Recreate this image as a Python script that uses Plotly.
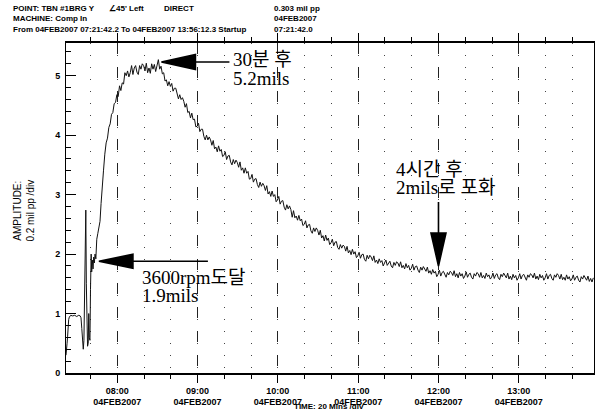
import plotly.graph_objects as go
import pandas as pd

# ---------------- data ----------------
START = pd.Timestamp("2007-02-04 07:21:42")
END = pd.Timestamp("2007-02-04 13:56:12")

# start-up transient (minutes after START, amplitude mil pp)
startup_min = [0, 0.4, 0.8, 1.2, 1.6, 2.0, 2.5, 3.5, 5, 6.5,
               8, 9.5, 10.6, 11.2, 11.8, 12.4, 12.9, 13.4, 13.9, 14.4,
               14.8, 15.2, 15.6, 16.1, 16.6, 17.0, 17.4, 17.9, 18.3, 18.8,
               19.2, 19.7, 20.2, 20.7, 21.2, 21.7, 22.3, 23.0, 23.8, 24.6,
               25.4, 26.2, 27.0]
startup_amp = [0.30, 0.36, 0.50, 0.62, 0.80, 0.90, 0.94, 0.97, 0.96, 0.97,
               0.95, 0.97, 0.96, 0.93, 0.75, 0.50, 0.40, 0.55, 1.20, 2.20,
               2.74, 1.50, 0.60, 0.45, 0.50, 1.00, 0.60, 0.55, 1.40, 2.00,
               1.70, 1.90, 1.75, 1.95, 1.85, 2.00, 1.92, 2.25, 2.35, 2.45,
               2.55, 2.85, 3.15]

# main trace, one reading per minute from minute 28 after START
main_start_min = 28
main_amp = [
    3.40, 3.68, 3.87, 3.95, 4.13, 4.19, 4.35, 4.38, 4.53, 4.55,
    4.68, 4.65, 4.83, 4.75, 4.88, 4.86, 5.05, 5.00, 5.08, 4.98,
    5.05, 5.17, 5.02, 5.13, 5.17, 5.06, 5.02, 5.17, 5.11, 5.20,
    5.17, 5.08, 5.21, 5.05, 5.13, 5.04, 5.20, 5.11, 5.19, 5.07,
    5.18, 5.27, 5.11, 5.16, 5.03, 5.05, 4.91, 4.93, 4.83, 4.90,
    4.82, 4.87, 4.74, 4.79, 4.79, 4.68, 4.61, 4.68, 4.60, 4.63,
    4.57, 4.47, 4.53, 4.38, 4.40, 4.29, 4.37, 4.26, 4.27, 4.14,
    4.15, 4.20, 4.06, 4.10, 4.10, 3.98, 3.92, 4.00, 3.92, 3.97,
    3.92, 3.83, 3.91, 3.77, 3.80, 3.72, 3.82, 3.73, 3.76, 3.64,
    3.66, 3.72, 3.59, 3.65, 3.66, 3.55, 3.50, 3.59, 3.52, 3.58,
    3.54, 3.46, 3.55, 3.41, 3.45, 3.36, 3.45, 3.36, 3.39, 3.26,
    3.27, 3.34, 3.21, 3.26, 3.27, 3.17, 3.12, 3.21, 3.14, 3.19,
    3.15, 3.07, 3.15, 3.01, 3.05, 2.97, 3.06, 2.97, 3.00, 2.88,
    2.91, 2.97, 2.84, 2.89, 2.90, 2.79, 2.74, 2.83, 2.76, 2.81,
    2.75, 2.62, 2.73, 2.61, 2.64, 2.57, 2.65, 2.56, 2.59, 2.48,
    2.50, 2.56, 2.44, 2.49, 2.50, 2.39, 2.35, 2.44, 2.38, 2.44,
    2.40, 2.32, 2.40, 2.27, 2.31, 2.22, 2.32, 2.23, 2.27, 2.16,
    2.19, 2.25, 2.14, 2.20, 2.21, 2.11, 2.08, 2.16, 2.10, 2.15,
    2.13, 2.05, 2.13, 2.02, 2.06, 1.99, 2.08, 2.00, 2.04, 1.94,
    1.97, 2.03, 1.93, 1.99, 2.00, 1.91, 1.88, 1.98, 1.92, 1.98,
    1.95, 1.89, 1.97, 1.86, 1.90, 1.84, 1.92, 1.86, 1.89, 1.80,
    1.84, 1.90, 1.81, 1.86, 1.88, 1.80, 1.77, 1.86, 1.81, 1.87,
    1.85, 1.79, 1.87, 1.77, 1.81, 1.75, 1.84, 1.77, 1.81, 1.73,
    1.76, 1.83, 1.73, 1.79, 1.80, 1.73, 1.69, 1.78, 1.73, 1.79,
    1.76, 1.71, 1.78, 1.68, 1.72, 1.66, 1.74, 1.68, 1.71, 1.62,
    1.66, 1.73, 1.63, 1.69, 1.71, 1.64, 1.61, 1.69, 1.65, 1.71,
    1.69, 1.64, 1.72, 1.62, 1.67, 1.60, 1.69, 1.63, 1.67, 1.59,
    1.63, 1.70, 1.61, 1.66, 1.68, 1.61, 1.58, 1.67, 1.63, 1.69,
    1.67, 1.61, 1.69, 1.60, 1.64, 1.59, 1.68, 1.62, 1.65, 1.58,
    1.61, 1.68, 1.59, 1.65, 1.67, 1.60, 1.57, 1.66, 1.62, 1.68,
    1.65, 1.60, 1.68, 1.58, 1.63, 1.57, 1.66, 1.60, 1.64, 1.56,
    1.60, 1.67, 1.58, 1.64, 1.66, 1.59, 1.56, 1.65, 1.61, 1.67,
    1.65, 1.60, 1.68, 1.58, 1.63, 1.57, 1.66, 1.60, 1.64, 1.56,
    1.60, 1.67, 1.58, 1.64, 1.66, 1.59, 1.56, 1.65, 1.61, 1.67,
    1.64, 1.58, 1.66, 1.57, 1.61, 1.56, 1.65, 1.58, 1.62, 1.55,
    1.58, 1.65, 1.56, 1.61, 1.63, 1.56, 1.53, 1.62, 1.58, 1.64,
    1.61, 1.56, 1.63, 1.54, 1.59, 1.53, 1.60,
]

hour_ticks = ["08:00", "09:00", "10:00", "11:00", "12:00", "13:00"]
date_label = "04FEB2007"

# annotated points: (time, amplitude)
peak_note = ("2007-02-04 08:33:00", 5.23)
rpm_note = ("2007-02-04 07:46:18", 1.88)
sat_note = ("2007-02-04 12:00:00", 1.80)

# ---------------- build ----------------
times = [START + pd.Timedelta(minutes=m) for m in startup_min] + \
        [START + pd.Timedelta(minutes=main_start_min + i) for i in range(len(main_amp))]
amps = startup_amp + main_amp

W, H = 600, 412
ML, MR, MT, MB = 66, 5, 43, 36
PW, PH = W - ML - MR, H - MT - MB


def px(x):
    return (x - ML) / PW


def py(y):
    return (H - MB - y) / PH


fig = go.Figure()
fig.add_trace(go.Scatter(x=times, y=amps, mode="lines",
                         line=dict(color="#111111", width=1),
                         hoverinfo="skip", showlegend=False))

tickfont = dict(family="Liberation Sans", size=9, color="black", weight="bold")

fig.update_xaxes(
    type="date",
    range=[START, END],
    tickvals=[f"2007-02-04 {h}:00" for h in hour_ticks],
    ticktext=[f"{h}<br>{date_label}" for h in hour_ticks],
    tickfont=tickfont,
    ticks="outside", ticklen=8, tickcolor="black", tickwidth=1,
    showline=True, linecolor="black", linewidth=1.5, mirror="ticks",
    showgrid=True, gridcolor="#222222", gridwidth=1, griddash="11px,13px",
    zeroline=False,
    minor=dict(dtick=20 * 60 * 1000, tick0="2007-02-04 08:00:00",
               ticks="outside", ticklen=4, tickcolor="black",
               showgrid=True, gridcolor="#444444", gridwidth=1,
               griddash="1px,11px"),
)
fig.update_yaxes(
    range=[0, PH / 60.0],
    tickvals=[0, 1, 2, 3, 4, 5],
    tickfont=tickfont,
    ticks="inside", ticklen=10, tickcolor="black", tickwidth=1,
    showline=True, linecolor="black", linewidth=1, mirror=True,
    showgrid=False, zeroline=False,
    ticklabelstandoff=3,
    minor=dict(dtick=0.2, ticks="inside", ticklen=5, tickcolor="black", showgrid=False),
)

# arrows (pixel-sized shapes anchored on data points)
arrow_style = dict(type="path", xref="x", yref="y", xsizemode="pixel", ysizemode="pixel",
                   fillcolor="black", line=dict(color="black", width=1.6), layer="above")
fig.add_shape(xanchor=peak_note[0], yanchor=peak_note[1],
              path="M0,0 L34,7.5 L34,-7.5 Z M34,0 L68,0", **arrow_style)
fig.add_shape(xanchor=rpm_note[0], yanchor=rpm_note[1],
              path="M0,0 L34,7 L34,-7 Z M34,0 L109,0", **arrow_style)
fig.add_shape(xanchor=sat_note[0], yanchor=sat_note[1],
              path="M0,0 L-7.5,33 L7.5,33 Z M0,33 L0,64", **arrow_style)

note_font = dict(family="Liberation Serif, Noto Sans CJK KR", size=19, color="black")
notes = [
    ("30분 후", 231, 60), ("5.2mils", 231, 79),
    ("3600rpm도달", 140, 280), ("1.9mils", 140, 298),
    ("4시간 후", 395, 171), ("2mils로 포화", 395, 189),
]
for text, x, y in notes:
    fig.add_annotation(text=text, xref="paper", yref="paper", x=px(x), y=py(y),
                       xanchor="left", yanchor="middle", showarrow=False, font=note_font)

head_font = dict(family="Liberation Sans", size=8, color="black", weight="bold")
header = [
    ("POINT: TBN #1BRG Y", 11, 8), ("∠45' Left", 107, 8), ("DIRECT", 162, 8),
    ("MACHINE: Comp In", 11, 18.5),
    ("From 04FEB2007 07:21:42.2 To 04FEB2007 13:56:12.3 Startup", 11, 29),
    ("0.303 mil pp", 272, 8), ("04FEB2007", 272, 18.5), ("07:21:42.0", 272, 29),
    ("TIME: 20 Mins /div", 292, 410),
]
for text, x, y in header:
    fig.add_annotation(text=text, xref="paper", yref="paper", x=px(x), y=py(y),
                       xanchor="left", yanchor="middle", showarrow=False, font=head_font)

fig.add_annotation(text="AMPLITUDE:<br>0.2 mil pp /div", xref="paper", yref="paper",
                   x=px(24), y=py(212), textangle=-90, showarrow=False,
                   xanchor="center", yanchor="middle",
                   font=dict(family="Liberation Sans", size=10, color="black"))

fig.update_layout(
    width=W, height=H,
    margin=dict(l=ML, r=MR, t=MT, b=MB),
    paper_bgcolor="white", plot_bgcolor="white",
    showlegend=False,
)

fig.write_html("out.html")
